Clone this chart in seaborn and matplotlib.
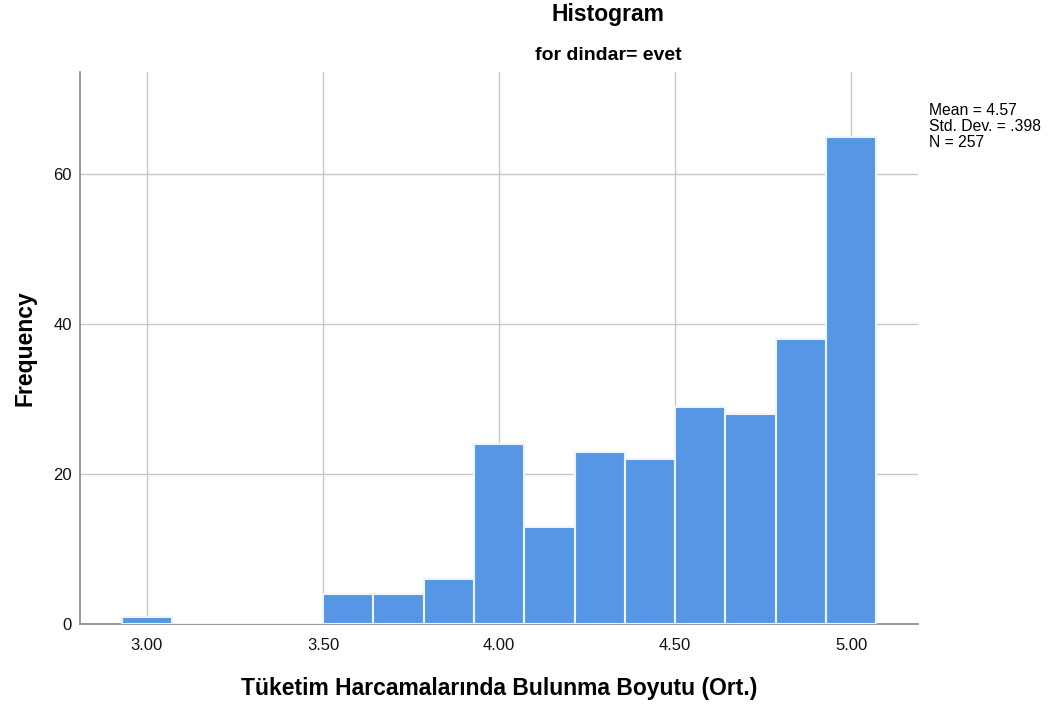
import numpy as np
import pandas as pd
import matplotlib
matplotlib.use('Agg')
import matplotlib.pyplot as plt
import seaborn as sns

# Bin centres (width 1/7) and counts
bin_centers = [3.000, 3.143, 3.286, 3.429, 3.571, 3.714, 3.857, 4.000,
               4.143, 4.286, 4.429, 4.571, 4.714, 4.857, 5.000]
counts = [1, 0, 0, 0, 4, 4, 6, 24, 13, 23, 22, 29, 28, 38, 65]
x_ticks = [3.00, 3.50, 4.00, 4.50, 5.00]
x_tick_labels = ['3.00', '3.50', '4.00', '4.50', '5.00']
y_ticks = [0, 20, 40, 60]
stats_text = 'Mean = 4.57\nStd. Dev. = .398\nN = 257'

sns.set_style('white')
plt.rcParams['font.family'] = ['Liberation Sans', 'DejaVu Sans']
plt.rcParams['text.color'] = 'black'
plt.rcParams['axes.labelcolor'] = 'black'

df = pd.DataFrame({'value': bin_centers, 'count': counts})

fig = plt.figure(figsize=(10.54, 7.04), dpi=100)
ax = fig.add_axes([0.0759, 0.1136, 0.7951, 0.7841])

width = 1 / 7
edges = list(np.append(np.array(bin_centers) - width / 2, bin_centers[-1] + width / 2))
sns.histplot(data=df, x='value', weights='count', bins=edges, ax=ax,
             color='#5596e5', alpha=1, edgecolor='#eef4fc', linewidth=1.5, zorder=3)

ax.set_xlim(2.81, 5.19)
ax.set_ylim(0, 73.6)
ax.set_xticks(x_ticks)
ax.set_xticklabels(x_tick_labels)
ax.set_yticks(y_ticks)
ax.tick_params(axis='both', length=0, labelsize=12, colors='#111111')
ax.tick_params(axis='x', pad=10)
ax.tick_params(axis='y', pad=6)
ax.grid(True, color='#c8c8c8', linewidth=1, zorder=0)
ax.set_axisbelow(True)
for side in ['top', 'right']:
    ax.spines[side].set_visible(False)
for side in ['left', 'bottom']:
    ax.spines[side].set_color('#888888')
    ax.spines[side].set_linewidth(1.2)

ax.set_xlabel('Tüketim Harcamalarında Bulunma Boyutu (Ort.)', fontsize=16.5,
              fontweight='bold', labelpad=17)
ax.set_ylabel('Frequency', fontsize=16.5, fontweight='bold', labelpad=12)

fig.text(608 / 1054, 1 - 15 / 704, 'Histogram', ha='center', va='center',
         fontsize=16.5, fontweight='bold')
fig.text(608 / 1054, 1 - 55 / 704, 'for dindar= evet', ha='center', va='center',
         fontsize=14, fontweight='bold')
fig.text(929 / 1054, 1 - 103 / 704, stats_text, ha='left', va='top',
         fontsize=11.3, linespacing=1.1)

fig.savefig('out.png', dpi=100)
